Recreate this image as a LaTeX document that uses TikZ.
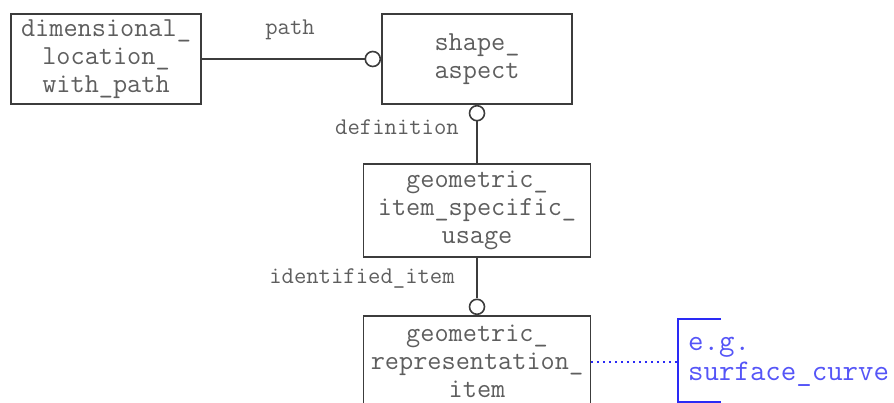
\documentclass[tikz,border=0pt]{standalone}
\usepackage{fontspec}
\usepackage{tikz}
\definecolor{linegray}{HTML}{3C3C3C}
\definecolor{textgray}{HTML}{5E5E5E}
\definecolor{noteblue}{HTML}{2A2AF5}
\newcommand{\entitysize}{27.5}
\newcommand{\rolesize}{24}

\begin{document}
\begin{tikzpicture}[x=1pt,y=-1pt,
	entity/.style={draw=linegray, line width=1.8pt, fill=white, inner sep=0pt,
		minimum height=90pt, align=center, text=textgray,
		font=\ttfamily\fontsize{\entitysize}{28}\selectfont},
	ring/.style={circle, draw=linegray, line width=1.6pt, fill=white,
		minimum size=15pt, inner sep=0pt},
	role/.style={text=textgray, inner sep=0pt,
		font=\ttfamily\fontsize{\rolesize}{25}\selectfont},
	link/.style={draw=linegray, line width=1.8pt},
	note/.style={text=noteblue!80!white, inner sep=0pt, align=left,
		font=\ttfamily\fontsize{30}{30}\selectfont},
	bracket/.style={draw=noteblue, line width=1.8pt},
	dotlink/.style={draw=noteblue, line width=1.6pt, dash pattern=on 1.6pt off 4.4pt}]
	\useasboundingbox (0,0) rectangle (894,403);
	\clip (0,0) rectangle (894,403);

	\node[entity, minimum width=190pt] (dlp) at (106,59) {dimensional\_\\location\_\\with\_path};
	\node[entity, minimum width=190pt] (sa) at (477,59) {shape\_\\aspect};
	\node[entity, minimum width=227pt, minimum height=93pt] (gisu) at (477,210.5) {geometric\_\\item\_specific\_\\usage};
	\node[entity, minimum width=227pt, minimum height=90pt] (gri) at (477,361) {geometric\_\\representation\_\\item};

	\node[ring, anchor=east] (pathring) at (sa.west) {};
	\node[ring, anchor=north] (defring) at (sa.south) {};
	\node[ring, anchor=south] (idring) at (gri.north) {};

	\node[role] (pathlbl) at (290,30) {path};
	\node[role] (deflbl) at (397,127) {definition};
	\node[role] (idlbl) at (362,278) {identified\_item};

	\coordinate (notetop) at (721,319);
	\coordinate (notebot) at (721,402);
	\coordinate (noteend) at (678,362);
	\node[note, anchor=west] (eg) at (688,362) {e.g.\\surface\_curve};

	\draw[link] (dlp) -- (pathring);
	\draw[link] (defring) -- (gisu);
	\draw[link] (gisu) -- (idring);
	\draw[dotlink] (gri.east |- noteend) -- (noteend);
	\draw[bracket] (notetop) -- (notetop -| noteend) -- (notebot -| noteend) -- (notebot);
\end{tikzpicture}
\end{document}
